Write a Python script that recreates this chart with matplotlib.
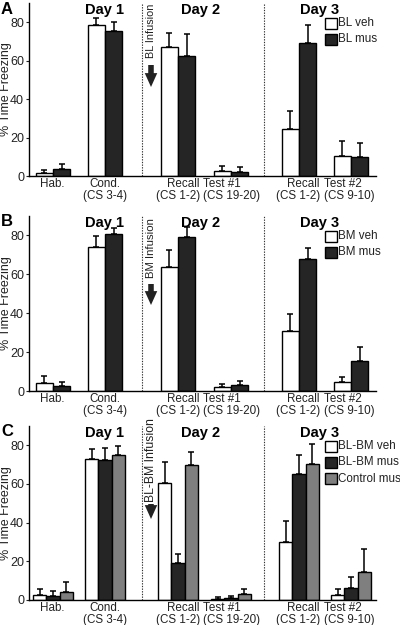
import matplotlib
matplotlib.use("Agg")
import matplotlib.pyplot as plt
from matplotlib.patches import Rectangle

plt.rcParams["font.family"] = ["Liberation Sans", "DejaVu Sans"]
plt.rcParams["font.size"] = 9

# ________________________________________________________________________________
## data (% time freezing, mean and upper SEM)
phases = ["Hab.", "Cond.\n(CS 3-4)", "Recall\n(CS 1-2)", "Test #1\n(CS 19-20)",
          "Recall\n(CS 1-2)", "Test #2\n(CS 9-10)"]
days = ["Day 1", "Day 2", "Day 3"]

bl_veh = [1.5, 78.4, 67.2, 2.7, 24.7, 10.5]
bl_veh_err = [1.6, 3.7, 7.2, 2.6, 9.3, 7.7]
bl_mus = [3.6, 75.3, 62.4, 2.2, 69.2, 9.9]
bl_mus_err = [2.9, 4.6, 11.5, 2.6, 9.5, 7.3]

bm_veh = [3.9, 74.0, 63.7, 1.9, 30.9, 4.8]
bm_veh_err = [3.9, 5.6, 8.6, 1.8, 8.9, 2.5]
bm_mus = [2.6, 80.5, 79.1, 3.1, 67.7, 15.2]
bm_mus_err = [2.2, 3.2, 5.2, 2.0, 6.0, 7.4]

blbm_veh = [2.6, 72.7, 60.7, 0.7, 29.9, 2.6]
blbm_veh_err = [3.1, 5.5, 10.9, 0.8, 11.0, 2.9]
blbm_mus = [2.2, 72.2, 19.2, 1.0, 65.3, 6.0]
blbm_mus_err = [2.4, 6.3, 4.5, 0.9, 9.8, 6.0]
ctrl_mus = [4.3, 74.9, 69.9, 3.1, 70.1, 14.6]
ctrl_mus_err = [5.0, 5.0, 6.7, 2.4, 10.7, 11.7]

yticks = [0, 20, 40, 60, 80]

# ________________________________________________________________________________
## layout (figure pixels, 400x625 at dpi 100)
W, H = 400, 625
AX_LEFT, AX_RIGHT = 29, 376
group_x = [24, 76, 149, 202, 270, 322]   # group centres, px from the y axis
## phase labels: anchor x (px from the y axis) and alignment
label_x = [23, 76, 171, 174, 291, 295]
label_ha = ["center", "center", "right", "left", "right", "left"]
day_x = [76, 172, 291]
sep_x = [113, 235]
WHITE, BLACK, GRAY = "white", "#252525", "#7f7f7f"
TXT = "#222222"


def fp(x, y):
    return x / W, 1 - y / H


def panel(fig, top, bottom, letter, series, infusion_label, infusion_fs, infusion_top, arrow):
    ax = fig.add_axes([AX_LEFT / W, 1 - bottom / H, (AX_RIGHT - AX_LEFT) / W, (bottom - top) / H])
    n = len(series)
    width = 34.4 / 2 if n == 2 else 40.0 / 3
    for i, (vals, errs, color, label) in enumerate(series):
        xs = [g + (i - (n - 1) / 2) * width for g in group_x]
        ax.bar(xs, vals, width=width, color=color, edgecolor="black", linewidth=1.0, zorder=2)
        ax.errorbar(xs, vals, yerr=[[0] * len(errs), errs], fmt="none", ecolor="black",
                    elinewidth=1.1, capsize=2.3, capthick=1.1, zorder=3)

    for sx in sep_x:
        ax.axvline(sx, color="#333333", linestyle=(0, (1.2, 1.2)), linewidth=0.8, zorder=1)

    ax.set_xlim(0, AX_RIGHT - AX_LEFT)
    ax.set_ylim(0, 90)
    ax.set_yticks(yticks)
    ax.set_xticks([])
    for lx, ha, lab in zip(label_x, label_ha, phases):
        ax.annotate(lab, xy=(lx, 0), xycoords=("data", "axes fraction"),
                    xytext=(0, -1.5), textcoords="offset points", ha=ha, va="top",
                    multialignment=ha, fontsize=8.4, linespacing=1.0, color=TXT)
    ax.tick_params(axis="y", length=2.5, width=0.8, pad=1, colors=TXT, labelsize=9)
    for s in ["top", "right"]:
        ax.spines[s].set_visible(False)
    for s in ["left", "bottom"]:
        ax.spines[s].set_linewidth(1.0)
    ax.set_ylabel("% Time Freezing", color=TXT, fontsize=9)
    ax.yaxis.set_label_coords(-0.05, 0.5)

    for dx, d in zip(day_x, days):
        ax.text(dx, 86.5, d, ha="center", va="center", fontweight="bold", fontsize=10.5)

    fig.text(*fp(1, top + 6), letter, fontweight="bold", fontsize=12, ha="left", va="center")

    ## infusion text + arrow
    fig.text(*fp(151, top + infusion_top), "{} Infusion".format(infusion_label), rotation=90,
             ha="center", va="top", fontsize=infusion_fs, color=TXT)
    ax.annotate("", xy=(151, H - (top + arrow[1])), xytext=(151, H - (top + arrow[0])),
                xycoords="figure pixels", textcoords="figure pixels",
                arrowprops=dict(arrowstyle="simple,head_width=0.9,head_length=1.0,tail_width=0.4",
                                mutation_scale=10, color=TXT, linewidth=0,
                                shrinkA=0, shrinkB=0))

    ## legend
    for j, (vals, errs, color, label) in enumerate(series):
        cy = top + 20 + j * 16.3
        x0, y0 = fp(325, cy + 5.5)
        fig.add_artist(Rectangle((x0, y0), 12 / W, 11 / H, transform=fig.transFigure,
                                 facecolor=color, edgecolor="black", linewidth=1.0))
        fig.text(*fp(338.5, cy), label, ha="left", va="center", fontsize=8.4, color=TXT)
    return ax


def main():
    fig = plt.figure(figsize=(W / 100, H / 100), dpi=100)

    panel(fig, 3, 176, "A",
          [(bl_veh, bl_veh_err, WHITE, "BL veh"), (bl_mus, bl_mus_err, BLACK, "BL mus")],
          "BL", 7.8, 1, (62, 84))
    panel(fig, 216, 391, "B",
          [(bm_veh, bm_veh_err, WHITE, "BM veh"), (bm_mus, bm_mus_err, BLACK, "BM mus")],
          "BM", 8.2, 2, (68, 89))
    panel(fig, 426, 600, "C",
          [(blbm_veh, blbm_veh_err, WHITE, "BL-BM veh"), (blbm_mus, blbm_mus_err, BLACK, "BL-BM mus"),
           (ctrl_mus, ctrl_mus_err, GRAY, "Control mus")],
          "BL-BM", 8.8, -8, (78, 93))

    fig.savefig("out.png", dpi=100)


if __name__ == "__main__":
    main()
